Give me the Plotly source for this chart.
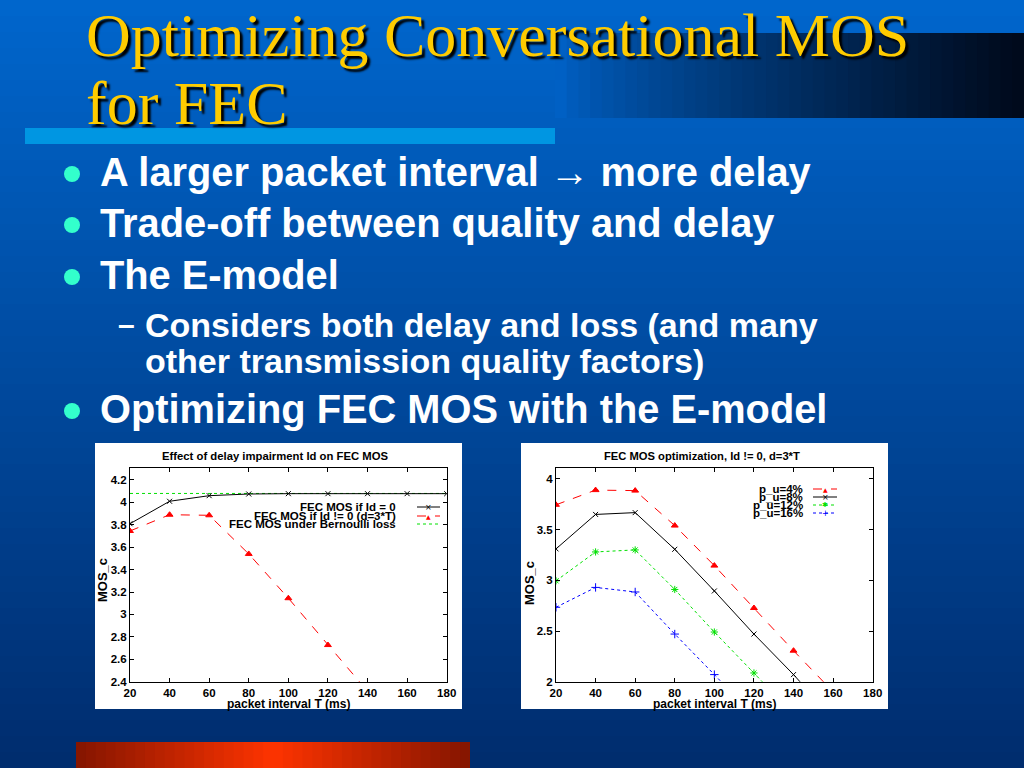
import plotly.graph_objects as go

W, H = 1024, 768
def px(x): return x / W
def py(y): return 1 - y / H

# ---------------- data ----------------
T1 = [20, 40, 60, 80, 100, 120, 140, 160, 180]
mos_id0 = [3.81, 4.01, 4.06, 4.075, 4.078, 4.078, 4.078, 4.078, 4.078]
mos_bern = [4.08, 4.08, 4.08, 4.08, 4.08, 4.08, 4.08, 4.08, 4.08]
T_id = [20, 40, 60, 80, 100, 120, 140, 160]
mos_id = [3.745, 3.89, 3.885, 3.54, 3.145, 2.727, 2.306, 1.90]

T_p4 = [20, 40, 60, 80, 100, 120, 140, 160]
p4 = [3.745, 3.89, 3.885, 3.54, 3.145, 2.727, 2.306, 1.90]
T_p8 = [20, 40, 60, 80, 100, 120, 140, 160]
p8 = [3.31, 3.65, 3.668, 3.306, 2.895, 2.47, 2.07, 1.64]
T_p12 = [20, 40, 60, 80, 100, 120, 140]
p12 = [2.995, 3.28, 3.30, 2.91, 2.49, 2.086, 1.68]
T_p16 = [20, 40, 60, 80, 100, 120]
p16 = [2.734, 2.93, 2.885, 2.47, 2.07, 1.66]

x_ticks = [20, 40, 60, 80, 100, 120, 140, 160, 180]
y1_ticks = [2.4, 2.6, 2.8, 3.0, 3.2, 3.4, 3.6, 3.8, 4.0, 4.2]
y1_labels = ["2.4", "2.6", "2.8", "3", "3.2", "3.4", "3.6", "3.8", "4", "4.2"]
y2_ticks = [2.0, 2.5, 3.0, 3.5, 4.0]
y2_labels = ["2", "2.5", "3", "3.5", "4"]

legend1 = ["FEC MOS if Id = 0", "FEC MOS if Id != 0 (d=3*T)", "FEC MOS under Bernoulli loss"]
legend2 = ["p_u=4%", "p_u=8%", "p_u=12%", "p_u=16%"]

title_lines = ["Optimizing Conversational MOS", "for FEC"]
bullets = [
    ("A larger packet interval \u2192 more delay", 0),
    ("Trade-off between quality and delay", 0),
    ("The E-model", 0),
    ("Considers both delay and loss (and many", 1),
    ("other transmission quality factors)", 2),
    ("Optimizing FEC MOS with the E-model", 0),
]

# ---------------- styles ----------------
RED, BLACK, GREEN, BLUE = "#ff0000", "#000000", "#00e000", "#0000ff"
CF = "Liberation Sans"

fig = go.Figure()

def add(x, y, color, dash, symbol, xa, ya, msize=6, mode="lines+markers"):
    fig.add_trace(go.Scatter(
        x=x, y=y, mode=mode, xaxis=xa, yaxis=ya, showlegend=False,
        line=dict(color=color, width=1, dash=dash),
        marker=dict(symbol=symbol, size=msize, color=color, line=dict(color=color, width=1)),
    ))

add(T1, mos_bern, GREEN, "dot", "circle", "x", "y", 1, mode="lines")
add(T1, mos_id0, BLACK, "solid", "x-thin-open", "x", "y", 5)
add(T_id, mos_id, RED, "dash", "triangle-up", "x", "y", 6)

add(T_p4, p4, RED, "dash", "triangle-up", "x2", "y2", 6)
add(T_p8, p8, BLACK, "solid", "x-thin-open", "x2", "y2", 5)
add(T_p12, p12, GREEN, "dot", "asterisk-open", "x2", "y2", 6)
add(T_p16, p16, BLUE, "dot", "cross-thin-open", "x2", "y2", 6)

shapes = []
# background vertical gradient
top = (0, 102, 204); bot = (0, 45, 110)
N = 48
for i in range(N):
    t = i / (N - 1)
    c = tuple(int(top[k] + (bot[k] - top[k]) * t) for k in range(3))
    shapes.append(dict(type="rect", xref="paper", yref="paper", layer="below",
                       x0=0, x1=1, y0=max(0, py((i + 1) * H / N + 1)), y1=py(i * H / N),
                       fillcolor="rgb(%d,%d,%d)" % c, line=dict(width=0)))
# dark bar at top right (horizontal gradient)
M = 40
x0b, x1b = 555, 1024
c0 = (0, 96, 196); c1 = (0, 10, 28)
for i in range(M):
    t = i / (M - 1)
    tt = t ** 0.8
    c = tuple(int(c0[k] + (c1[k] - c0[k]) * tt) for k in range(3))
    xa = x0b + (x1b - x0b) * i / M
    xb = min(x1b, x0b + (x1b - x0b) * (i + 1) / M + 1)
    shapes.append(dict(type="rect", xref="paper", yref="paper", layer="below",
                       x0=px(xa), x1=px(xb), y0=py(118), y1=py(33),
                       fillcolor="rgb(%d,%d,%d)" % c, line=dict(width=0)))
# light blue bar under title
shapes.append(dict(type="rect", xref="paper", yref="paper", layer="below",
                   x0=px(25), x1=px(555), y0=py(144), y1=py(128),
                   fillcolor="rgb(0,150,226)", line=dict(width=0)))
# orange bar bottom
M2 = 40
for i in range(M2):
    t = i / (M2 - 1)
    d = abs(t - 0.5) * 2
    c = (int(255 - 120 * d), int(52 - 30 * d), 0)
    xa = 76 + (470 - 76) * i / M2
    xb = 76 + (470 - 76) * (i + 1) / M2 + 1
    shapes.append(dict(type="rect", xref="paper", yref="paper", layer="below",
                       x0=px(xa), x1=px(min(xb, 470)), y0=py(768), y1=py(742),
                       fillcolor="rgb(%d,%d,%d)" % c, line=dict(width=0)))
# white chart boxes
for (bx0, bx1) in [(95, 462), (521, 888)]:
    shapes.append(dict(type="rect", xref="paper", yref="paper", layer="below",
                       x0=px(bx0), x1=px(bx1), y0=py(709), y1=py(443),
                       fillcolor="white", line=dict(width=0)))

# bullets
for yy in [174, 225, 277, 411]:
    shapes.append(dict(type="circle", xref="paper", yref="paper",
                       x0=px(64), x1=px(80), y0=py(yy + 8), y1=py(yy - 8),
                       fillcolor="#33ffcc", line=dict(width=0)))

annotations = []
# title
for txt, yy in zip(title_lines, [0, 68]):
    annotations.append(dict(text=txt, x=px(85), y=py(yy), xref="paper", yref="paper",
                            xanchor="left", yanchor="top", showarrow=False, borderpad=0,
                            font=dict(family="Liberation Serif", size=62, color="#ffcc00",
                                      shadow="3px 3px 2px #000000")))
# bullet texts
bullet_y = [172, 223, 275, 325, 361, 409]
for (txt, lvl), yy in zip(bullets, bullet_y):
    if lvl == 0:
        annotations.append(dict(text=txt, x=px(98), y=py(yy), xref="paper", yref="paper",
                                xanchor="left", yanchor="middle", showarrow=False,
                                font=dict(family="Liberation Sans", size=39.8, color="white", weight="bold")))
    else:
        annotations.append(dict(text=txt, x=px(143), y=py(yy), xref="paper", yref="paper",
                                xanchor="left", yanchor="middle", showarrow=False,
                                font=dict(family="Liberation Sans", size=34, color="white", weight="bold")))
        if lvl == 1:
            annotations.append(dict(text="\u2013", x=px(116), y=py(yy), xref="paper", yref="paper",
                                    xanchor="left", yanchor="middle", showarrow=False,
                                    font=dict(family="Liberation Sans", size=30, color="white", weight="bold")))

# chart titles
annotations.append(dict(text="Effect of delay impairment Id on FEC MOS", x=px(275), y=py(456),
                        xref="paper", yref="paper", showarrow=False, xanchor="center", yanchor="middle",
                        font=dict(family=CF, size=11.3, color="black", weight="bold")))
annotations.append(dict(text="FEC MOS optimization, Id != 0, d=3*T", x=px(702), y=py(456),
                        xref="paper", yref="paper", showarrow=False, xanchor="center", yanchor="middle",
                        font=dict(family=CF, size=11.2, color="black", weight="bold")))
# axis titles
for cx in [288, 714]:
    annotations.append(dict(text="packet interval T (ms)", x=px(cx), y=py(704), xref="paper", yref="paper",
                            showarrow=False, xanchor="center", yanchor="middle",
                            font=dict(family=CF, size=12, color="black", weight="bold")))
for cx, cy in [(102, 580), (529, 583)]:
    annotations.append(dict(text="MOS_c", x=px(cx), y=py(cy), xref="paper", yref="paper", textangle=-90,
                            showarrow=False, xanchor="center", yanchor="middle",
                            font=dict(family=CF, size=13, color="black", weight="bold")))

# legends
def legend(labels, ys, right_x, lx0, lx1, colors, dashes, glyphs, gsizes):
    for lab, yy, col, ds, gl, gs in zip(labels, ys, colors, dashes, glyphs, gsizes):
        annotations.append(dict(text=lab, x=px(right_x), y=py(yy), xref="paper", yref="paper",
                                showarrow=False, xanchor="right", yanchor="middle",
                                font=dict(family=CF, size=11.5, color="black", weight="bold")))
        shapes.append(dict(type="line", xref="paper", yref="paper", x0=px(lx0), x1=px(lx1),
                           y0=py(yy), y1=py(yy), line=dict(color=col, width=1, dash=ds)))
        if gl:
            annotations.append(dict(text=gl, x=px((lx0 + lx1) / 2), y=py(yy), xref="paper", yref="paper",
                                    showarrow=False, xanchor="center", yanchor="middle",
                                    font=dict(family="DejaVu Sans", size=gs, color=col)))

legend(legend1, [507, 516, 524], 398, 417, 440, [BLACK, RED, GREEN], ["solid", "dash", "dot"],
       ["\u00d7", "\u25b2", ""], [8, 6, 6])
legend(legend2, [489, 497, 505, 513], 805, 813, 837, [RED, BLACK, GREEN, BLUE],
       ["dash", "solid", "dot", "dot"], ["\u25b2", "\u00d7", "\u2731", "+"], [6, 8, 7, 8])

axis_common = dict(showline=True, linecolor="black", linewidth=1, mirror="ticks", ticks="inside",
                   ticklen=4, tickcolor="black", showgrid=False, zeroline=False, automargin=False,
                   tickfont=dict(family=CF, size=11.5, color="black", weight="bold"))

fig.update_layout(
    width=W, height=H, autosize=False,
    margin=dict(l=0, r=0, t=0, b=0, pad=0, autoexpand=False),
    paper_bgcolor="rgb(0,45,110)", plot_bgcolor="white",
    showlegend=False,
    xaxis=dict(domain=[px(130), px(446.7)], anchor="y", range=[20, 180], tickvals=x_ticks, **axis_common),
    yaxis=dict(domain=[py(681.7), py(468)], anchor="x", range=[2.4, 4.307], tickvals=y1_ticks,
               ticktext=y1_labels, **axis_common),
    xaxis2=dict(domain=[px(556), px(872.7)], anchor="y2", range=[20, 180], tickvals=x_ticks, **axis_common),
    yaxis2=dict(domain=[py(681.7), py(468)], anchor="x2", range=[2.0, 4.108], tickvals=y2_ticks,
                ticktext=y2_labels, **axis_common),
    shapes=shapes, annotations=annotations,
)

post = ("document.documentElement.style.margin='0';document.documentElement.style.overflow='hidden';"
        "document.body.style.margin='0';document.body.style.overflow='hidden';")
fig.write_html("out.html", config={"displayModeBar": False}, post_script=post)
